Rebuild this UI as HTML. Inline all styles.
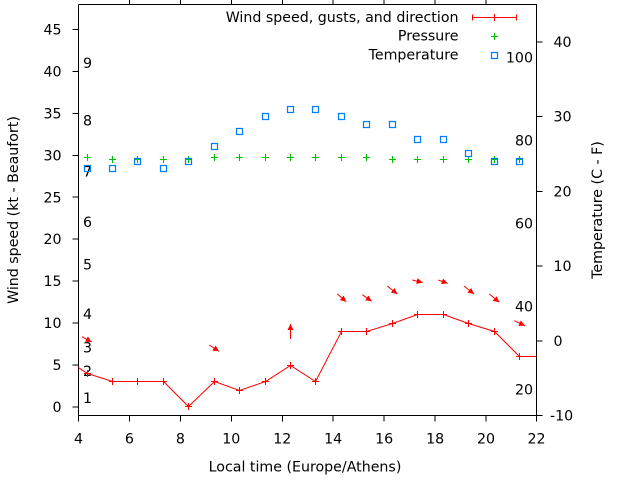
<!DOCTYPE html>
<html><head><meta charset="utf-8"><style>
html,body{margin:0;padding:0;background:#fff;}
svg{display:block}
text{font-family:"DejaVu Sans","Liberation Sans",sans-serif;font-size:14.2px;fill:#000;}
</style></head><body>
<svg width="640" height="480" viewBox="0 0 640 480" xmlns="http://www.w3.org/2000/svg">
<defs>
<clipPath id="pa"><rect x="78.5" y="4.5" width="458" height="411"/></clipPath>
<marker id="ah" viewBox="0 0 6 6" refX="6" refY="3" markerWidth="6" markerHeight="6" markerUnits="userSpaceOnUse" orient="auto"><path d="M0,0L6,3L0,6z" fill="#ff0000"/></marker>
</defs>
<rect width="640" height="480" fill="#fff"/>

<!-- axes border -->
<g stroke="#000" stroke-width="1" fill="none" shape-rendering="crispEdges">
<path d="M78.5,4.5V415.5H536.5V4.5H78.5"/>
<!-- left ticks -->
<path d="M72.5,406.9H78.5M72.5,365H78.5M72.5,323H78.5M72.5,281.1H78.5M72.5,239.1H78.5M72.5,197.2H78.5M72.5,155.3H78.5M72.5,113.3H78.5M72.5,71.4H78.5M72.5,29.4H78.5"/>
<!-- right ticks -->
<path d="M536.5,415.5H542.5M536.5,340.8H542.5M536.5,266H542.5M536.5,191.3H542.5M536.5,116.6H542.5M536.5,41.8H542.5"/>
<!-- bottom ticks -->
<path d="M78.5,415.5V421.5M129.4,415.5V421.5M180.4,415.5V421.5M231.3,415.5V421.5M282.3,415.5V421.5M333.2,415.5V421.5M384.2,415.5V421.5M435.1,415.5V421.5M486,415.5V421.5M536.5,415.5V421.5"/>
<!-- top ticks -->
<path d="M129.4,0V4.5M180.4,0V4.5M231.3,0V4.5M282.3,0V4.5M333.2,0V4.5M384.2,0V4.5M435.1,0V4.5M486,0V4.5"/>
</g>

<!-- left tick labels -->
<g text-anchor="end">
<text x="61.5" y="412">0</text>
<text x="61.5" y="370">5</text>
<text x="61.5" y="328.1">10</text>
<text x="61.5" y="286.2">15</text>
<text x="61.5" y="244.2">20</text>
<text x="61.5" y="202.3">25</text>
<text x="61.5" y="160.4">30</text>
<text x="61.5" y="118.4">35</text>
<text x="61.5" y="76.5">40</text>
<text x="61.5" y="34.5">45</text>
</g>
<!-- right tick labels -->
<g>
<text x="550" y="420.5">-10</text>
<text x="553.5" y="345.8">0</text>
<text x="553.5" y="271">10</text>
<text x="553.5" y="196.3">20</text>
<text x="553.5" y="121.6">30</text>
<text x="553.5" y="46.8">40</text>
</g>
<!-- bottom tick labels -->
<g text-anchor="middle">
<text x="78.5" y="443.4">4</text>
<text x="129.4" y="443.4">6</text>
<text x="180.4" y="443.4">8</text>
<text x="231.3" y="443.4">10</text>
<text x="282.3" y="443.4">12</text>
<text x="333.2" y="443.4">14</text>
<text x="384.2" y="443.4">16</text>
<text x="435.1" y="443.4">18</text>
<text x="486" y="443.4">20</text>
<text x="536.5" y="443.4">22</text>
</g>

<!-- axis titles -->
<text x="305" y="471.5" text-anchor="middle">Local time (Europe/Athens)</text>
<text transform="translate(18,210) rotate(-90)" text-anchor="middle">Wind speed (kt - Beaufort)</text>
<text transform="translate(602,210) rotate(-90)" text-anchor="middle">Temperature (C - F)</text>

<!-- Beaufort labels -->
<g>
<text x="83" y="402.8">1</text>
<text x="83" y="376">2</text>
<text x="83" y="352.6">3</text>
<text x="83" y="318.8">4</text>
<text x="83" y="269.3">5</text>
<text x="83" y="227.1">6</text>
<text x="83" y="176.4">7</text>
<text x="83" y="125.6">8</text>
<text x="83" y="67.8">9</text>
</g>
<!-- Fahrenheit labels -->
<g text-anchor="end">
<text x="533" y="62.4">100</text>
<text x="533" y="145.5">80</text>
<text x="533" y="228.5">60</text>
<text x="533" y="311.6">40</text>
<text x="533" y="394.6">20</text>
</g>

<!-- data -->
<g clip-path="url(#pa)">
<!-- wind line -->
<polyline fill="none" stroke="#ff0000" stroke-width="1" points="61.5,356.6 87.5,373.5 112.5,381.5 137.5,381.5 163.5,381.5 188.5,406.5 214.5,381.5 239.5,390.5 265.5,381.5 290.5,365.5 315.5,381.5 341.5,331.5 366.5,331.5 392.5,323.5 417.5,314.5 443.5,314.5 468.5,323.5 494.5,331.5 519.5,356.5 545,356.5"/>
<path fill="none" stroke="#ff0000" stroke-width="1" d="M84,373.5h7M87.5,370v7M109,381.5h7M112.5,378v7M134,381.5h7M137.5,378v7M160,381.5h7M163.5,378v7M185,406.5h7M188.5,403v7M211,381.5h7M214.5,378v7M236,390.5h7M239.5,387v7M262,381.5h7M265.5,378v7M287,365.5h7M290.5,362v7M312,381.5h7M315.5,378v7M338,331.5h7M341.5,328v7M363,331.5h7M366.5,328v7M389,323.5h7M392.5,320v7M414,314.5h7M417.5,311v7M440,314.5h7M443.5,311v7M465,323.5h7M468.5,320v7M491,331.5h7M494.5,328v7M516,356.5h7M519.5,353v7"/>

<!-- direction arrows -->
<g stroke="#ff0000" stroke-width="1" marker-end="url(#ah)">
<line x1="82" y1="336.7" x2="91.7" y2="342"/>
<line x1="209.3" y1="345" x2="219" y2="351.3"/>
<line x1="290.5" y1="339" x2="290.5" y2="324"/>
<line x1="337.3" y1="294" x2="346.3" y2="301.7"/>
<line x1="362.3" y1="294.7" x2="371.7" y2="301.3"/>
<line x1="387.3" y1="286" x2="397.3" y2="294"/>
<line x1="412.3" y1="280" x2="422.7" y2="282.5"/>
<line x1="438.3" y1="280" x2="447.7" y2="283.3"/>
<line x1="464" y1="286" x2="474" y2="294"/>
<line x1="489.3" y1="294" x2="499.3" y2="302.3"/>
<line x1="514.3" y1="320.7" x2="525" y2="325.7"/>
</g>

<!-- pressure -->
<path fill="none" stroke="#00c000" stroke-width="1.1" d="M84,157.5h7M87.5,154v7M109,159.5h7M112.5,156v7M134,159.5h7M137.5,156v7M160,159.5h7M163.5,156v7M185,159.5h7M188.5,156v7M211,157.5h7M214.5,154v7M236,157.5h7M239.5,154v7M262,157.5h7M265.5,154v7M287,157.5h7M290.5,154v7M312,157.5h7M315.5,154v7M338,157.5h7M341.5,154v7M363,157.5h7M366.5,154v7M389,159.5h7M392.5,156v7M414,159.5h7M417.5,156v7M440,159.5h7M443.5,156v7M465,159.5h7M468.5,156v7M491,159.5h7M494.5,156v7M516,159.5h7M519.5,156v7"/>

<!-- temperature -->
<g fill="none" stroke="#0080ff" stroke-width="1.25">
<rect x="84.5" y="165.5" width="6" height="6"/>
<rect x="109.5" y="165.5" width="6" height="6"/>
<rect x="134.5" y="158.5" width="6" height="6"/>
<rect x="160.5" y="165.5" width="6" height="6"/>
<rect x="185.5" y="158.5" width="6" height="6"/>
<rect x="211.5" y="143.5" width="6" height="6"/>
<rect x="236.5" y="128.5" width="6" height="6"/>
<rect x="262.5" y="113.5" width="6" height="6"/>
<rect x="287.5" y="106.5" width="6" height="6"/>
<rect x="312.5" y="106.5" width="6" height="6"/>
<rect x="338.5" y="113.5" width="6" height="6"/>
<rect x="363.5" y="121.5" width="6" height="6"/>
<rect x="389.5" y="121.5" width="6" height="6"/>
<rect x="414.5" y="136.5" width="6" height="6"/>
<rect x="440.5" y="136.5" width="6" height="6"/>
<rect x="465.5" y="150.5" width="6" height="6"/>
<rect x="491.5" y="158.5" width="6" height="6"/>
<rect x="516.5" y="158.5" width="6" height="6"/>
</g>
</g>

<!-- legend -->
<g text-anchor="end">
<text x="458.5" y="22">Wind speed, gusts, and direction</text>
<text x="458.5" y="40.7">Pressure</text>
<text x="458.5" y="59.3">Temperature</text>
</g>
<path fill="none" stroke="#ff0000" stroke-width="1" shape-rendering="crispEdges" d="M472.5,17.5H516.5M472.5,14.5v6M516.5,14.5v6M494.5,14v7"/>
<path fill="none" stroke="#00c000" stroke-width="1.1" d="M491,36.5h7M494.5,33v7"/>
<rect x="491.5" y="52.5" width="6" height="6" fill="none" stroke="#0080ff" stroke-width="1.25"/>
</svg>
</body></html>
